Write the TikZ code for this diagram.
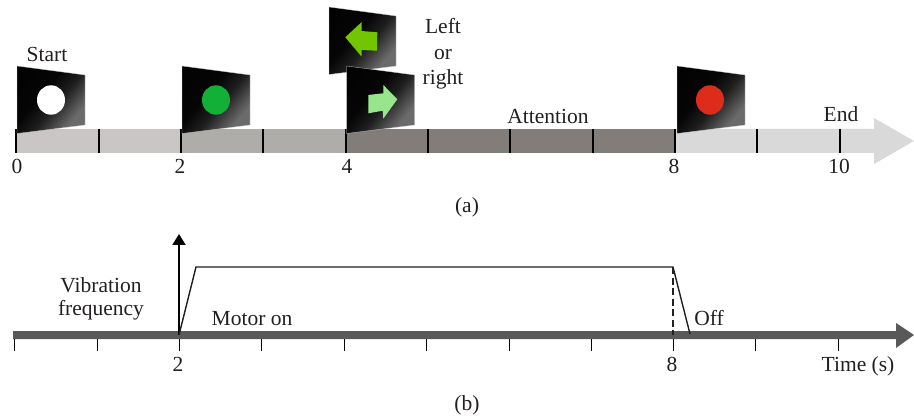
\documentclass[tikz,border=0pt]{standalone}
\usepackage{fontspec}
\setmainfont{Liberation Serif}
\usetikzlibrary{arrows.meta}
\definecolor{segA}{HTML}{CAC6C5}
\definecolor{segB}{HTML}{AFADAA}
\definecolor{segC}{HTML}{827D79}
\definecolor{segD}{HTML}{D9D9D9}
\definecolor{axisgrey}{HTML}{595959}
\definecolor{txt}{HTML}{231F20}
\definecolor{dotgreen}{HTML}{12B036}
\definecolor{dotred}{HTML}{DE2C1A}
\definecolor{arrowdark}{HTML}{72C600}
\definecolor{arrowlight}{HTML}{97E68C}
\pgfdeclarehorizontalshading{flagshade}{100bp}{color(0bp)=(black);color(42bp)=(black!98!white);color(55bp)=(black!88!white);color(72bp)=(black!58!white);color(100bp)=(black!58!white)}
\tikzset{
  lab/.style={font=\fontsize{21.5}{25}\selectfont,text=txt,anchor=base,inner sep=0pt,outer sep=0pt},
  tickA/.style={line width=1.4pt,black},
  tickB/.style={line width=1pt,black},
  flagbox/.style={shading=flagshade,shading angle=-40,draw=white!80!black,line width=0.3pt},
  trace/.style={line width=1.4pt,txt},
}
\newcommand{\flagshape}[1]{
  \begin{scope}[shift={(#1,0)}]
    \shade[flagbox] (0,66) -- (68,75) -- (68,125) -- (0,133.5) -- cycle;
  \end{scope}
}
\begin{document}
\begin{tikzpicture}[x=1pt,y=-1pt]
\useasboundingbox (0,0) rectangle (914,417);
% timeline bar (a)
\fill[segA] (16,129) rectangle (181,153);
\fill[segB] (181,129) rectangle (346,153);
\fill[segC] (346,129) rectangle (675,153);
\fill[segD] (675,129) -- (874,129) -- (874,118) -- (914,141) -- (874,164) -- (874,153) -- (675,153) -- cycle;
\foreach \x in {16,99,181,263,346,428,510,593,675,757,840}
  \draw[tickA] (\x,129) -- (\x,153);
% flags
\flagshape{17}
\flagshape{182}
\begin{scope}[shift={(329,-59)}]
  \shade[flagbox] (0,66) -- (67,75) -- (67,125) -- (0,133.5) -- cycle;
\end{scope}
\flagshape{346.5}
\flagshape{677}
\fill[white] (51,100) ellipse (14 and 14.7);
\fill[dotgreen] (216,100) ellipse (14 and 14.7);
\fill[dotred] (710,100) ellipse (14 and 14.7);
% direction arrows
\fill[arrowdark] (377.3,32.3) -- (361.7,31) -- (361.7,22) -- (345.3,37.3) -- (361.7,56.7) -- (361.7,50) -- (377,50.7) -- cycle;
\fill[arrowlight] (368.3,95) -- (383.3,93.3) -- (383.3,85) -- (397.3,99.3) -- (383.3,118.7) -- (382.7,110.7) -- (368.3,113.3) -- cycle;
% labels (a)
\node[lab] (start) at (47,62) {Start};
\node[lab] (left) at (443,34) {Left};
\node[lab] (or) at (443,60) {or};
\node[lab] (right) at (443,85) {right};
\node[lab] (attention) at (548,124) {Attention};
\node[lab] (end) at (841,122) {End};
\node[lab] (t0) at (17,174) {0};
\node[lab] (t2) at (180,174) {2};
\node[lab] (t4) at (347,174) {4};
\node[lab] (t8) at (674,174) {8};
\node[lab] (t10) at (839,174) {10};
\node[lab] (capa) at (467,213) {(a)};
% axis (b)
\fill[axisgrey] (13,331) -- (896,331) -- (896,323) -- (914,335) -- (896,348) -- (896,339) -- (13,339) -- cycle;
\foreach \x in {14,97,179,261,344,426,509,591,673,755,838}
  \draw[tickB] (\x,339) -- (\x,351);
\coordinate (origin) at (179,335);
\coordinate (yend) at (179,234);
\coordinate (riseTop) at (196,267);
\coordinate (fallTop) at (673,267);
\coordinate (fallEnd) at (690,334);
\coordinate (eightAxis) at (673,335);
\draw[line width=1.9pt,black,-{Triangle[length=11pt,width=13pt]}] (origin) -- (yend);
\draw[line width=1.1pt,txt,dash pattern=on 7pt off 3.5pt] (fallTop) -- (eightAxis);
\draw[trace,line join=miter] (origin) -- (riseTop) -- (fallTop) -- (fallEnd);
% labels (b)
\node[lab] (vib) at (101,292) {Vibration};
\node[lab] (freq) at (101,316) {frequency};
\node[lab] (motor) at (252,325) {Motor on};
\node[lab] (off) at (709,325) {Off};
\node[lab] (b2) at (178,371) {2};
\node[lab] (b8) at (672,371) {8};
\node[lab] (time) at (858,371) {Time (s)};
\node[lab] (capb) at (467,410) {(b)};
\end{tikzpicture}
\end{document}
